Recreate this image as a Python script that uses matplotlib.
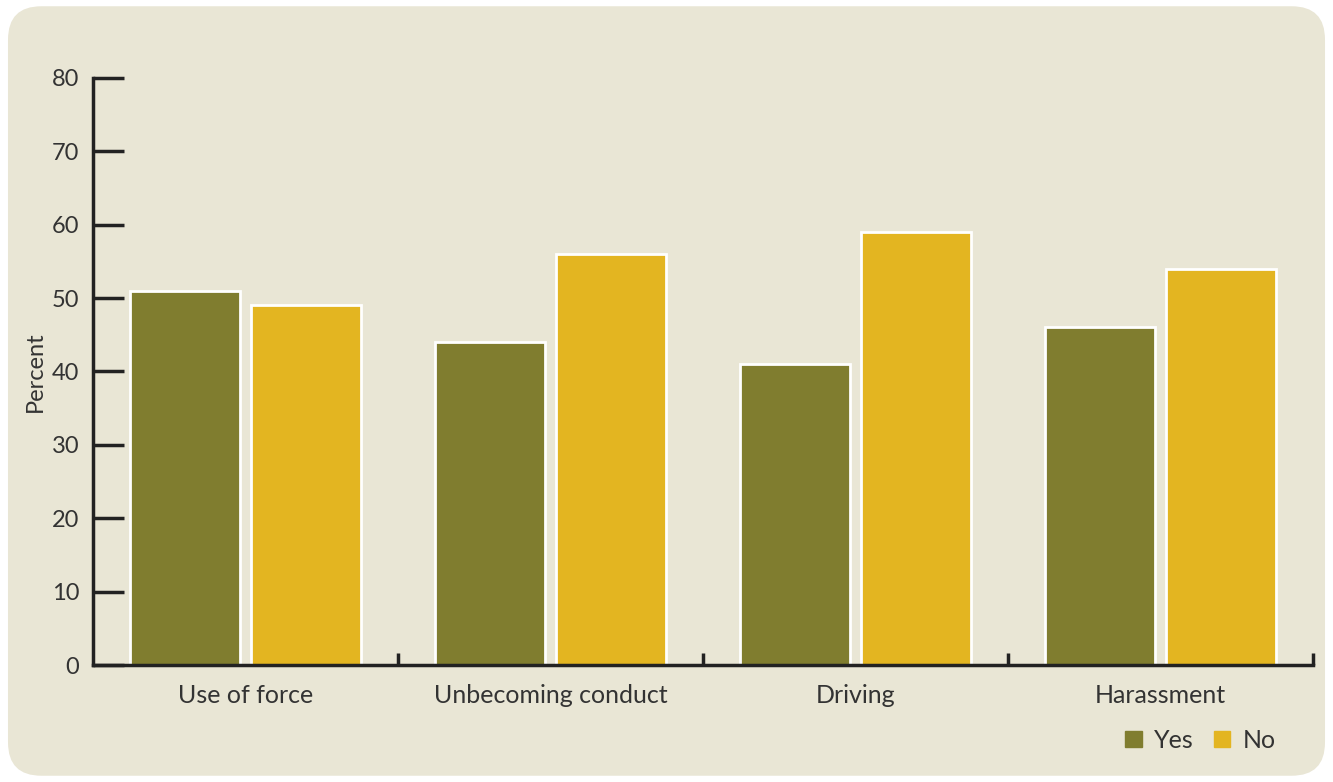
import matplotlib
matplotlib.use('Agg')
from matplotlib import pyplot as plt
from matplotlib.patches import FancyBboxPatch, Patch
import numpy as np

# Data
categories = ['Use of force', 'Unbecoming conduct', 'Driving', 'Harassment']
yes_values = [51, 44, 41, 46]
no_values = [49, 56, 59, 54]
y_ticks = [0, 10, 20, 30, 40, 50, 60, 70, 80]

plt.rcParams['font.family'] = ['Lato', 'DejaVu Sans']
text_color = '#333333'
bg_color = '#E9E6D5'
yes_color = '#807D2F'
no_color = '#E3B521'

fig = plt.figure(figsize=(13.33, 7.82), dpi=100, facecolor='white')

# Rounded background panel
panel = FancyBboxPatch((0.006, 0.008), 0.988, 0.984,
                       boxstyle='round,pad=0,rounding_size=0.025',
                       transform=fig.transFigure, facecolor=bg_color,
                       edgecolor='none', zorder=-10, mutation_aspect=1333 / 782)
fig.patches.append(panel)

ax = fig.add_axes([0.0698, 0.1496, 0.9152, 0.7507])
ax.set_facecolor('none')
ax.set_zorder(1)

x = np.arange(len(categories))
width = 0.36
offset = 0.198
ax.bar(x - offset, yes_values, width, color=yes_color, edgecolor='white',
       linewidth=2, label='Yes', zorder=2)
ax.bar(x + offset, no_values, width, color=no_color, edgecolor='white',
       linewidth=2, label='No', zorder=2)

ax.set_xlim(-0.5, len(categories) - 0.5)
ax.set_ylim(0, 80)

for side in ['top', 'right']:
    ax.spines[side].set_visible(False)
for side in ['left', 'bottom']:
    ax.spines[side].set_linewidth(2.5)
    ax.spines[side].set_color('#222222')
    ax.spines[side].set_zorder(3)

ax.set_yticks(y_ticks)
ax.tick_params(axis='y', direction='in', length=22, width=2.5, color='#222222',
               labelsize=17, labelcolor=text_color, pad=10)

ax.set_xticks(x)
ax.set_xticklabels(categories)
ax.tick_params(axis='x', which='major', length=0, labelsize=18,
               labelcolor=text_color, pad=14)
ax.set_xticks(np.arange(0.5, len(categories), 1), minor=True)
ax.tick_params(axis='x', which='minor', direction='in', length=9, width=2.5,
               color='#222222')

ax.set_ylabel('Percent', fontsize=17, color=text_color, labelpad=4)

handles = [Patch(color=yes_color, label='Yes'), Patch(color=no_color, label='No')]
fig.legend(handles=handles, loc='lower right', bbox_to_anchor=(0.974, 0.010),
           ncol=2, frameon=False, fontsize=18, handlelength=0.65,
           handleheight=0.65, handletextpad=0.5, columnspacing=0.8,
           labelcolor=text_color)

fig.savefig('out.png', dpi=100, facecolor='white')
